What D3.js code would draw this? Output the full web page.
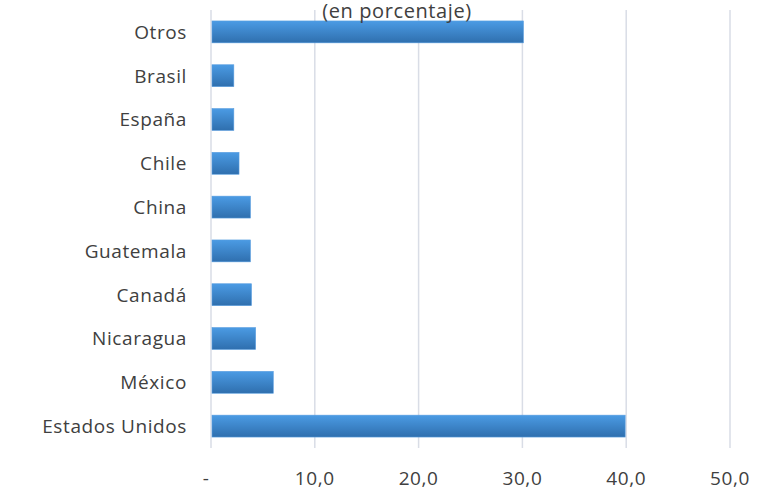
<!DOCTYPE html>
<html>
<head>
<meta charset="utf-8">
<script src="https://cdn.jsdelivr.net/npm/d3@7"></script>
<style>
  body { margin: 0; background: #fff; }
  text { font-family: "Open Sans", "Noto Sans", sans-serif; fill: #404040; letter-spacing: 0.6px; }
</style>
</head>
<body>
<div class="chart"></div>
<script>
var countries = ["Otros", "Brasil", "España", "Chile", "China", "Guatemala", "Canadá", "Nicaragua", "México", "Estados Unidos"];
var shares = [30.1, 2.2, 2.2, 2.7, 3.8, 3.8, 3.9, 4.3, 6.0, 39.9];
var tickValues = [0, 10, 20, 30, 40, 50];
var tickLabels = ["-", "10,0", "20,0", "30,0", "40,0", "50,0"];

var svgWidth = 761;
var svgHeight = 491;

var margin = { top: 10, right: 31, bottom: 43, left: 211 };
var width = svgWidth - margin.left - margin.right;
var height = svgHeight - margin.top - margin.bottom;

var svg = d3.select(".chart")
  .append("svg")
  .attr("width", svgWidth)
  .attr("height", svgHeight);

var defs = svg.append("defs");
var grad = defs.append("linearGradient")
  .attr("id", "barGrad")
  .attr("x1", 0).attr("y1", 0).attr("x2", 0).attr("y2", 1);
grad.append("stop").attr("offset", "0%").attr("stop-color", "#4b9be4");
grad.append("stop").attr("offset", "100%").attr("stop-color", "#2f6fae");

var chartGroup = svg.append("g")
  .attr("transform", `translate(${margin.left}, ${margin.top})`);

var xScale = d3.scaleLinear()
  .domain([0, 50])
  .range([0, width]);

var yScale = d3.scaleBand()
  .domain(countries)
  .range([0, height])
  .paddingInner(0.5)
  .paddingOuter(0.25);

// gridlines
chartGroup.selectAll(".grid")
  .data(tickValues)
  .enter()
  .append("line")
  .attr("x1", d => xScale(d))
  .attr("x2", d => xScale(d))
  .attr("y1", 0)
  .attr("y2", height)
  .attr("stroke", "#d9dde6")
  .attr("stroke-width", 1.5);

// bars
chartGroup.selectAll(".bar")
  .data(countries)
  .enter()
  .append("rect")
  .attr("x", xScale(0) + 1)
  .attr("y", d => yScale(d))
  .attr("width", (d, i) => xScale(shares[i]) - xScale(0) - 1)
  .attr("height", yScale.bandwidth())
  .attr("fill", "url(#barGrad)")
  .attr("stroke", "#5a9ee0")
  .attr("stroke-width", 0.6);

// category labels
chartGroup.selectAll(".cat")
  .data(countries)
  .enter()
  .append("text")
  .attr("x", -24)
  .attr("y", d => yScale(d) + yScale.bandwidth() / 2)
  .attr("dy", "0.36em")
  .attr("text-anchor", "end")
  .style("font-size", "19px")
  .text(d => d);

// x axis labels
chartGroup.selectAll(".xlab")
  .data(tickValues)
  .enter()
  .append("text")
  .attr("x", (d, i) => xScale(d) - (i === 0 ? 5 : 0))
  .attr("y", height + 37)
  .attr("text-anchor", "middle")
  .style("font-size", "19px")
  .text((d, i) => tickLabels[i]);

// title (partly hidden behind the top edge in the source)
svg.append("text")
  .attr("x", 397)
  .attr("y", 18)
  .attr("text-anchor", "middle")
  .style("font-size", "20px")
  .text("(en porcentaje)");
</script>
</body>
</html>
